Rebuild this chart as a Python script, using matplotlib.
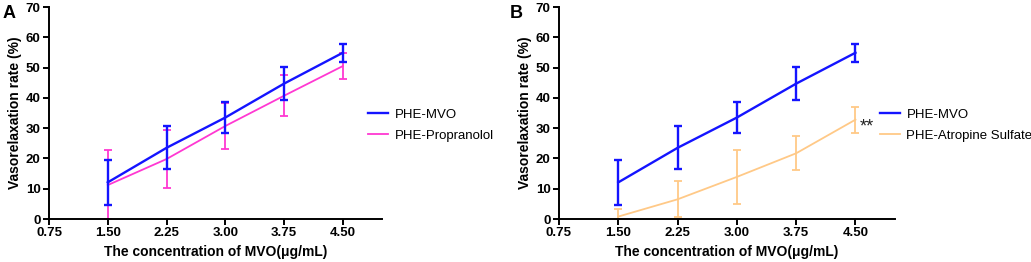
import matplotlib
matplotlib.use("Agg")
import matplotlib.pyplot as plt
from matplotlib.lines import Line2D

plt.rcParams['font.family'] = ['Liberation Sans', 'DejaVu Sans']

conc = [1.50, 2.25, 3.00, 3.75, 4.50]
xticks = [0.75, 1.50, 2.25, 3.00, 3.75, 4.50]
xtick_labels = ["0.75", "1.50", "2.25", "3.00", "3.75", "4.50"]
yticks = [0, 10, 20, 30, 40, 50, 60, 70]

mvo_mean = [12.1, 23.5, 33.5, 44.7, 54.9]
mvo_err = [7.5, 7.1, 5.2, 5.4, 3.0]

prop_mean = [11.2, 19.8, 30.7, 40.7, 50.5]
prop_err = [11.7, 9.7, 7.6, 6.8, 4.4]

atro_mean = [0.8, 6.5, 13.9, 21.7, 32.8]
atro_err = [2.5, 6.0, 8.9, 5.6, 4.3]

blue = "#1414ff"
magenta = "#ff38d2"
orange = "#ffc987"

fig = plt.figure(figsize=(10.31, 2.62), dpi=100)
axA = fig.add_axes([49/1031, 43/262, 333/1031, 212/262])
axB = fig.add_axes([559/1031, 43/262, 336/1031, 212/262])


def style(ax):
    ax.set_xlim(0.75, 5.0)
    ax.set_ylim(0, 70)
    ax.set_xticks(xticks)
    ax.set_xticklabels(xtick_labels)
    ax.set_yticks(yticks)
    for s in ("top", "right"):
        ax.spines[s].set_visible(False)
    for s in ("left", "bottom"):
        ax.spines[s].set_linewidth(1.4)
    ax.tick_params(width=1.4, length=4, labelsize=9.5, pad=2)
    for lab in ax.get_xticklabels() + ax.get_yticklabels():
        lab.set_fontweight("bold")
    ax.set_xlabel("The concentration of MVO(μg/mL)", fontsize=10,
                  fontweight="bold", labelpad=4)
    ax.set_ylabel("Vasorelaxation rate (%)", fontsize=10,
                  fontweight="bold", labelpad=3)
    ax.patch.set_alpha(0)


def legend(ax, entries, anchor_x):
    handles = [Line2D([], [], color=c, lw=w) for c, w, _ in entries]
    labels = [t for _, _, t in entries]
    ax.legend(handles, labels, loc="center left",
              bbox_to_anchor=(anchor_x, 0.443), frameon=False, fontsize=9.5,
              handlelength=1.5, handletextpad=0.5, labelspacing=0.65,
              borderaxespad=0, borderpad=0)


# Panel A
lowp = [min(e, m) for m, e in zip(prop_mean, prop_err)]
axA.errorbar(conc, prop_mean, yerr=[lowp, prop_err], color=magenta, lw=1.3,
             elinewidth=1.3, capsize=3, capthick=1.3, clip_on=False, zorder=2)
axA.errorbar(conc, mvo_mean, yerr=mvo_err, color=blue, lw=1.7,
             elinewidth=1.7, capsize=3, capthick=1.7, clip_on=False, zorder=3)
style(axA)
legend(axA, [(blue, 1.7, "PHE-MVO"), (magenta, 1.3, "PHE-Propranolol")],
       (368 - 49) / 333)
fig.text(3/1031, 1 - 13/262, "A", fontsize=13, fontweight="bold",
         va="center", ha="left")

# Panel B
lowa = [min(e, m) for m, e in zip(atro_mean, atro_err)]
axB.errorbar(conc, atro_mean, yerr=[lowa, atro_err], color=orange, lw=1.3,
             elinewidth=1.3, capsize=3, capthick=1.3, clip_on=False, zorder=2)
axB.errorbar(conc, mvo_mean, yerr=mvo_err, color=blue, lw=1.7,
             elinewidth=1.7, capsize=3, capthick=1.7, clip_on=False, zorder=3)
style(axB)
axB.text(4.555, atro_mean[-1] - 2.5, "**", fontsize=13,
         ha="left", va="center", color="#222222")
legend(axB, [(blue, 1.7, "PHE-MVO"), (orange, 1.3, "PHE-Atropine Sulfate")],
       (880 - 559) / 336)
fig.text(510/1031, 1 - 13/262, "B", fontsize=13, fontweight="bold",
         va="center", ha="left")

fig.savefig("out.png", dpi=100)
